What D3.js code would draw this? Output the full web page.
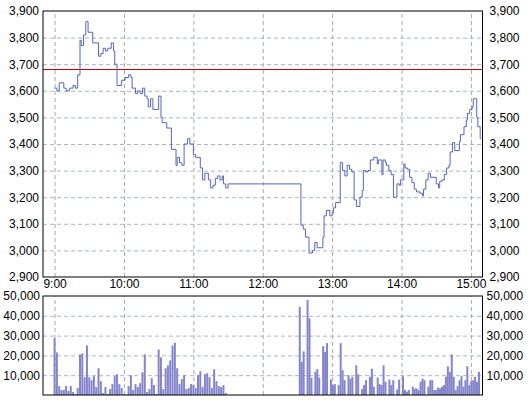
<!DOCTYPE html>
<html>
<head>
<meta charset="utf-8">
<script src="https://cdnjs.cloudflare.com/ajax/libs/d3/7.8.5/d3.min.js"></script>
<style>
  body { margin: 0; background: #fff; }
  svg { display: block; }
  text { font-family: Arial, "Liberation Sans", sans-serif; font-size: 12px; fill: #000; }
  .grid line { stroke: #aab4c4; stroke-dasharray: 4,3; }
  .grid .domain { display: none; }
  .frame { fill: none; stroke: #000; stroke-width: 1; }
</style>
</head>
<body>
<svg width="529" height="403"></svg>
<script>
// minutes after 9:00 where the price changes, and the price from there on
var priceMinutes = [0, 2, 4, 8, 10, 13, 16, 18, 20, 22, 23, 25, 27, 29, 33, 38, 40, 42, 44, 46,
  49, 51, 52, 54, 58, 61, 64, 66, 67, 70, 72, 74, 76, 78, 80, 81, 83, 85, 90, 92,
  93, 97, 101, 105, 106, 108, 110, 112, 115, 117, 120, 122, 126, 128, 130, 133, 135, 137, 139, 141,
  143, 145, 146, 148, 150,
  213, 215, 217, 220, 223, 225, 227, 232, 233, 235, 238, 240, 241, 243, 247, 249, 251, 253, 255, 257,
  259, 261, 264, 266, 267, 269, 271, 273, 276, 279, 280, 283, 284, 286, 287, 289, 291, 293, 296, 298,
  299, 302, 303, 305, 307, 309, 311, 313, 316, 318, 319, 321, 323, 325, 330, 332, 333, 335, 337, 339,
  341, 342, 344, 346, 350, 351, 354, 356, 357, 359, 361, 362, 365, 366, 368, 369];
var prices = [3610, 3600, 3630, 3610, 3600, 3610, 3620, 3610, 3660, 3790, 3770, 3810, 3860, 3820, 3780, 3730, 3740, 3760, 3750, 3760,
  3780, 3750, 3700, 3620, 3640, 3650, 3660, 3650, 3610, 3590, 3600, 3590, 3610, 3580, 3570, 3540, 3570, 3530, 3580, 3500,
  3480, 3460, 3380, 3320, 3350, 3330, 3320, 3400, 3420, 3400, 3360, 3350, 3310, 3265, 3290, 3265, 3235, 3245, 3270, 3280,
  3265, 3280, 3250, 3235, 3250,
  3095, 3080, 3050, 2990, 3000, 3030, 3010, 3050, 3130, 3150, 3130, 3140, 3160, 3180, 3330, 3300, 3280, 3320, 3305, 3295,
  3190, 3165, 3200, 3225, 3300, 3295, 3300, 3340, 3350, 3325, 3340, 3285, 3340, 3330, 3320, 3300, 3285, 3200, 3250, 3245,
  3265, 3325, 3310, 3305, 3275, 3255, 3230, 3220, 3215, 3205, 3230, 3265, 3290, 3275, 3250, 3235, 3260, 3265, 3285, 3310,
  3320, 3370, 3405, 3375, 3410, 3435, 3465, 3490, 3515, 3530, 3540, 3570, 3500, 3465, 3420, 3420];
var basePrice = 3680;

// volume bars: morning every 2 minutes from 9:00, afternoon from 12:32 to 15:07
var amStart = 0, amEnd = 148;
var amVolume = [28700, 21500, 4500, 2500, 2500, 4500, 2000, 4500, 1500, 500, 3500, 20500, 21000, 9000, 25000, 9000,
  7500, 9500, 4000, 13500, 7000, 1000, 4000, 500, 3000, 5500, 9500, 10500, 5500, 3500, 500, 300,
  4500, 10000, 2500, 5500, 4000, 6000, 11500, 20500, 1500, 3000, 8500, 5000, 500, 23000, 19000, 3000,
  13500, 15000, 17500, 25000, 26500, 13500, 5500, 8000, 10000, 3000, 3500, 5500, 5000, 3500, 10000, 12000,
  4000, 10500, 11000, 9000, 3500, 13000, 7000, 4500, 4000, 5000, 1000];
var pmStart = 212, pmEnd = 367;
var pmVolume = [44500, 16700, 22000, 0, 48000, 38700, 8700, 0, 11700, 13000, 8800, 0, 24700, 21800, 26200, 0,
  7800, 5000, 5500, 0, 5000, 26200, 12500, 7500, 0, 10000, 8300, 9200, 0, 15000, 10500, 0,
  3000, 5000, 7500, 0, 9200, 13300, 4200, 0, 8800, 5500, 5000, 15000, 6700, 0, 7800, 5000,
  7500, 0, 2800, 7800, 0, 9500, 2500, 1700, 2500, 0, 4200, 3300, 3300, 2500, 6700, 8300,
  7500, 0, 4200, 7500, 7500, 2500, 2500, 3800, 3300, 4200, 5000, 9200, 14500, 11700, 20500, 9200,
  2500, 4500, 7500, 9500, 4200, 7500, 14500, 5000, 7000, 7500, 9200, 6700, 11700];

var hourTicks = [0, 60, 120, 180, 240, 300, 360];
var hourLabels = ['9:00', '10:00', '11:00', '12:00', '13:00', '14:00', '15:00'];
var priceTicks = [2900, 3000, 3100, 3200, 3300, 3400, 3500, 3600, 3700, 3800, 3900];
var volumeTicks = [10000, 20000, 30000, 40000, 50000];

var svg = d3.select('svg');
var left = 43, right = 482.5;
var pTop = 11, pBottom = 277;
var vTop = 296, vBottom = 395;

var x = d3.scaleLinear().domain([-10, 370]).range([left, right]);
var yP = d3.scaleLinear().domain([2900, 3900]).range([pBottom, pTop]);
var yV = d3.scaleLinear().domain([0, 50000]).range([vBottom, vTop]);
var fmt = d3.format(',');

function grids(yScale, top, bottom, ticks) {
  svg.append('g').attr('class', 'grid')
    .attr('transform', 'translate(0,' + bottom + ')')
    .call(d3.axisBottom(x).tickValues(hourTicks).tickSize(-(bottom - top)).tickFormat(''))
    .selectAll('line').style('stroke', '#a8a8b0');
  svg.append('g').attr('class', 'grid')
    .attr('transform', 'translate(' + left + ',0)')
    .call(d3.axisLeft(yScale).tickValues(ticks).tickSize(-(right - left)).tickFormat(''));
}
grids(yP, pTop, pBottom, priceTicks.slice(1, -1));
grids(yV, vTop, vBottom, volumeTicks.slice(0, -1));

// reference line
svg.append('line')
  .attr('x1', left).attr('x2', right)
  .attr('y1', yP(basePrice)).attr('y2', yP(basePrice))
  .attr('stroke', '#d00000').attr('stroke-width', 1);

// price step line
var pts = priceMinutes.map(function(m, i) { return [m, prices[i]]; });
svg.append('path')
  .datum(pts)
  .attr('fill', 'none')
  .attr('stroke', '#5566c0')
  .attr('stroke-width', 1)
  .attr('d', d3.line().curve(d3.curveStepAfter)
    .x(function(d) { return x(d[0]); })
    .y(function(d) { return yP(d[1]); }));

// volume bars
var vols = [];
amVolume.forEach(function(v, i) {
  vols.push([amStart + i * (amEnd - amStart) / (amVolume.length - 1), v]);
});
pmVolume.forEach(function(v, i) {
  vols.push([pmStart + i * (pmEnd - pmStart) / (pmVolume.length - 1), v]);
});
svg.append('g').selectAll('rect')
  .data(vols.filter(function(d) { return d[1] > 0; }))
  .enter().append('rect')
  .attr('x', function(d) { return x(d[0]) - 1; })
  .attr('width', 2)
  .attr('y', function(d) { return yV(d[1]); })
  .attr('height', function(d) { return vBottom - yV(d[1]); })
  .attr('fill', '#8585cc');

// frames
svg.append('rect').attr('class', 'frame')
  .attr('x', left).attr('y', pTop).attr('width', right - left).attr('height', pBottom - pTop);
svg.append('rect').attr('class', 'frame')
  .attr('x', left).attr('y', vTop).attr('width', right - left).attr('height', vBottom - vTop);

// axis labels
function labels(axis, tx, ty) {
  var g = svg.append('g').attr('transform', 'translate(' + tx + ',' + ty + ')').call(axis);
  g.select('.domain').remove();
  g.selectAll('line').remove();
  g.selectAll('text').style('font-size', '12px').style('font-family', 'Arial, "Liberation Sans", sans-serif').attr('fill', '#000');
  return g;
}
labels(d3.axisLeft(yP).tickValues(priceTicks).tickFormat(fmt).tickSize(0).tickPadding(4), left, 0);
labels(d3.axisRight(yP).tickValues(priceTicks).tickFormat(fmt).tickSize(0).tickPadding(7), right, 0);
labels(d3.axisLeft(yV).tickValues(volumeTicks).tickFormat(fmt).tickSize(0).tickPadding(3), left, 0);
labels(d3.axisRight(yV).tickValues(volumeTicks).tickFormat(fmt).tickSize(0).tickPadding(4), right, 0);
labels(d3.axisBottom(x).tickValues(hourTicks).tickFormat(function(d, i) { return hourLabels[i]; })
  .tickSize(0).tickPadding(2), 0, pBottom);
</script>
</body>
</html>
